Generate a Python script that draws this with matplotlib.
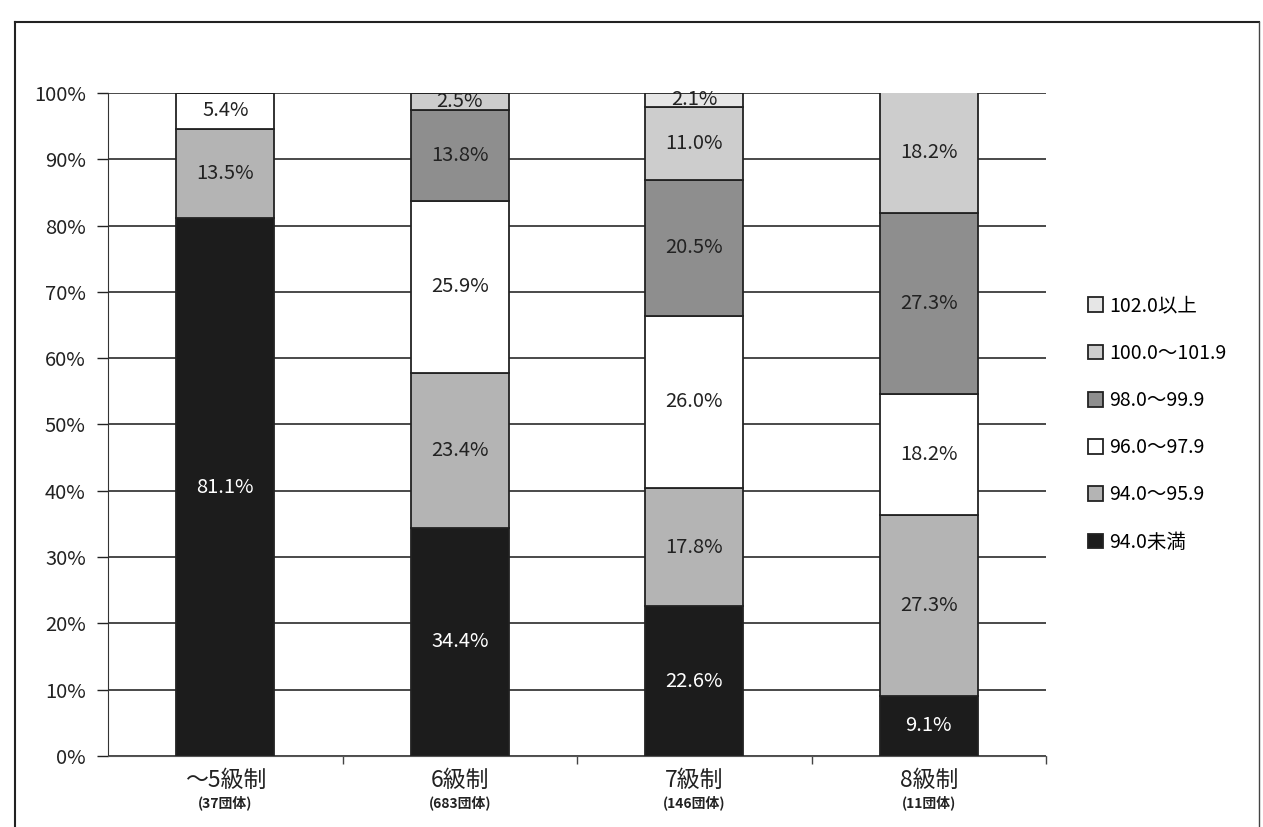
import matplotlib
matplotlib.use("Agg")
import matplotlib.pyplot as plt
from matplotlib.lines import Line2D
from matplotlib.patches import Patch
import numpy as np

plt.rcParams['font.family'] = ['Noto Sans CJK JP', 'DejaVu Sans']

categories = ["～5級制", "6級制", "7級制", "8級制"]
counts = ["(37団体)", "(683団体)", "(146団体)", "(11団体)"]
series_names = ["94.0未満", "94.0～95.9", "96.0～97.9", "98.0～99.9", "100.0～101.9", "102.0以上"]
s_lt94 = [81.1, 34.4, 22.6, 9.1]
s_94_95 = [13.5, 23.4, 17.8, 27.3]
s_96_97 = [5.4, 25.9, 26.0, 18.2]
s_98_99 = [0.0, 13.8, 20.5, 27.3]
s_100_101 = [0.0, 2.5, 11.0, 18.2]
s_ge102 = [0.0, 0.0, 2.1, 0.0]
series = [s_lt94, s_94_95, s_96_97, s_98_99, s_100_101, s_ge102]
colors = ["#1c1c1c", "#b4b4b4", "#ffffff", "#8e8e8e", "#cdcdcd", "#e6e6e6"]
text_colors = ["white", "#222222", "#222222", "#222222", "#222222", "#222222"]
yticks = [0, 10, 20, 30, 40, 50, 60, 70, 80, 90, 100]

fig = plt.figure(figsize=(12.63, 8.27), dpi=100)
ax = fig.add_axes([108/1263, 1-756/827, (1046-108)/1263, (756-93)/827])

x = np.arange(len(categories))
bottom = np.zeros(len(categories))
for vals, col, tc in zip(series, colors, text_colors):
    vals = np.array(vals)
    ax.bar(x, vals, bottom=bottom, width=0.42, color=col, edgecolor="#222222",
           linewidth=1.3, zorder=3)
    for xi, v, b in zip(x, vals, bottom):
        if v > 0:
            ax.text(xi, b + v/2, f"{v:.1f}%", ha="center", va="center",
                    fontsize=14.5, color=tc, zorder=4)
    bottom += vals

ax.set_xlim(-0.5, 3.5)
ax.set_ylim(0, 100)
ax.set_yticks(yticks)
ax.set_yticklabels([f"{t}%" for t in yticks], fontsize=14.5)
ax.tick_params(axis='y', length=8, width=1, pad=8, colors="#222222")
ax.grid(axis='y', color="#2a2a2a", linewidth=1.2, zorder=0)
ax.set_axisbelow(True)
ax.set_xticks([0.5, 1.5, 2.5, 3.5])
ax.set_xticklabels([])
ax.tick_params(axis='x', length=6, width=1, colors="#444444")
for sp in ["top", "right"]:
    ax.spines[sp].set_visible(False)
ax.spines["left"].set_color("#333333")
ax.spines["bottom"].set_color("#555555")

for xi, c, n in zip(x, categories, counts):
    ax.text(xi, -2.0, c, ha="center", va="top", fontsize=16.5,
            color="#222222", transform=ax.transData, clip_on=False)
    ax.text(xi, -6.0, n, ha="center", va="top", fontsize=10, fontweight="bold",
            color="#222222", transform=ax.transData, clip_on=False)

handles = [Patch(facecolor=colors[i], edgecolor="#222222", linewidth=1.3)
           for i in range(len(series_names))][::-1]
labels = series_names[::-1]
leg = fig.legend(handles, labels, loc="upper left", bbox_to_anchor=(1070/1263, 1-278/827),
                 frameon=False, fontsize=14, handlelength=0.8, handleheight=0.8,
                 handletextpad=0.3, labelspacing=1.35)

# outer frame
fig.add_artist(Line2D([15/1263, 15/1263], [0, 1-22/827], color="#222222", lw=1.5))
fig.add_artist(Line2D([15/1263, 1259/1263], [1-22/827, 1-22/827], color="#222222", lw=1.5))
fig.add_artist(Line2D([1259/1263, 1259/1263], [0, 1-22/827], color="#444444", lw=1.0))

fig.savefig("out.png", dpi=100, facecolor="white")
